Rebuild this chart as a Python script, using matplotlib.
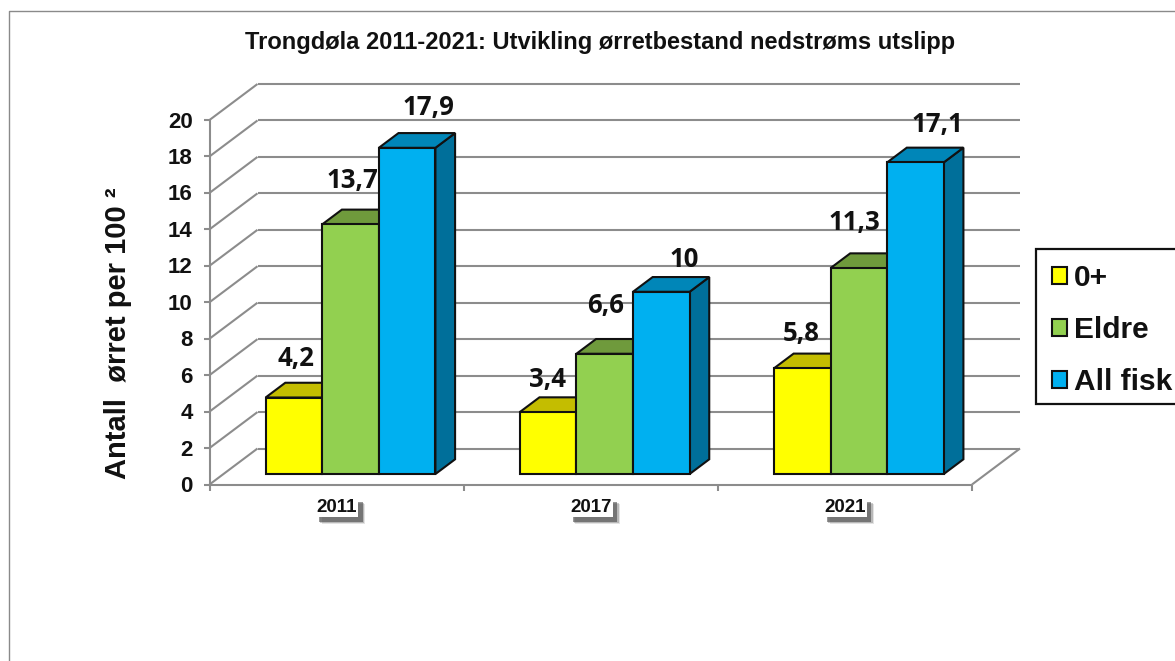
import matplotlib
matplotlib.use("Agg")
import matplotlib.pyplot as plt
import matplotlib.patheffects as pe
from matplotlib.patches import Polygon, Patch, Rectangle
from matplotlib.lines import Line2D

years = ["2011", "2017", "2021"]
series_names = ["0+", "Eldre", "All fisk"]
young = [4.2, 3.4, 5.8]
older = [13.7, 6.6, 11.3]
all_fish = [17.9, 10, 17.1]
value_labels = [["4,2", "3,4", "5,8"], ["13,7", "6,6", "11,3"], ["17,9", "10", "17,1"]]
y_ticks = list(range(0, 21, 2))

front_colors = ["#FFFF00", "#92D050", "#00B0F0"]
top_colors = ["#C4BD00", "#6F9A3C", "#0086B8"]
side_colors = ["#A8A200", "#5F8535", "#006F9A"]
GRID = "#8C8C8C"
W, H = 1175, 661

fig = plt.figure(figsize=(W / 100, H / 100), dpi=100, facecolor="white")
plt.rcParams["font.family"] = ["Liberation Sans", "DejaVu Sans"]

# Axes span the front plane of the 3D box, in pixel placement
left, right, bottom, top = 209.5, 972.0, 484.5, 120.0
ax = fig.add_axes([left / W, 1 - bottom / H, (right - left) / W, (bottom - top) / H])
ax.set_xlim(0, 3)
ax.set_ylim(0, 20)
ax.axis("off")

x_px = (right - left) / 3
v_px = (bottom - top) / 20
# Oblique projection: a full unit of depth moves the point right and up
DEPTH_X = 48.0 / x_px
DEPTH_Y = 36.0 / v_px


def proj(x, v, depth=0.0):
    return x + DEPTH_X * depth, v + DEPTH_Y * depth


def segment(p, q, **kw):
    style = dict(color=GRID, lw=1.5, clip_on=False, solid_capstyle="butt", zorder=1)
    style.update(kw)
    ax.add_line(Line2D([p[0], q[0]], [p[1], q[1]], **style))


# Walls: back gridlines, left-side diagonals, floor outline
for v in y_ticks:
    segment(proj(0, v, 0), proj(0, v, 1))
    segment(proj(0, v, 1), proj(3, v, 1))
segment(proj(0, 0), proj(3, 0))
segment(proj(3, 0), proj(3, 0, 1))
segment(proj(0, 0), proj(0, 20))

# Tick marks and value-axis labels
tick_len_x = 6 / x_px
tick_len_v = 6 / v_px
for v in y_ticks:
    segment((0, v), (-tick_len_x, v))
    ax.text(-17 / x_px, v - 2 / v_px, str(v), ha="right", va="center", fontsize=16,
            fontweight="bold", color="#111111", clip_on=False)
for i in range(4):
    segment((i, 0), (i, -tick_len_v))

# Bars with front, top and side faces
BAR_W = 56.6 / x_px
BAR_D0 = 0.29
BAR_D1 = 0.70
outline = dict(edgecolor="#111111", linewidth=1.5, joinstyle="miter", clip_on=False)
series = [young, older, all_fish]
for g in range(len(years)):
    base = g + 0.5 - 1.5 * BAR_W
    for s, vals in enumerate(series):
        v = vals[g]
        x0, x1 = base + s * BAR_W, base + (s + 1) * BAR_W
        z = 3 + s * 0.1
        ax.add_patch(Polygon([proj(x1, 0, BAR_D0), proj(x1, 0, BAR_D1),
                              proj(x1, v, BAR_D1), proj(x1, v, BAR_D0)],
                             facecolor=side_colors[s], zorder=z, **outline))
        ax.add_patch(Polygon([proj(x0, v, BAR_D0), proj(x1, v, BAR_D0),
                              proj(x1, v, BAR_D1), proj(x0, v, BAR_D1)],
                             facecolor=top_colors[s], zorder=z, **outline))
        ax.add_patch(Polygon([proj(x0, 0, BAR_D0), proj(x1, 0, BAR_D0),
                              proj(x1, v, BAR_D0), proj(x0, v, BAR_D0)],
                             facecolor=front_colors[s], zorder=z + 0.01, **outline))

# Data labels, nudged by hand off each bar's top-front edge (pixels)
label_nudge = [[(2, 39), (-1, 33), (-1, 35)],
               [(1.5, 44), (1, 48), (-4.5, 46)],
               [(21.5, 40), (22.5, 32), (22.5, 38)]]
for s, vals in enumerate(series):
    for g, v in enumerate(vals):
        base = g + 0.5 - 1.5 * BAR_W
        cx, cy = proj(base + (s + 0.5) * BAR_W, v, BAR_D0)
        dx, dy = label_nudge[s][g]
        ax.annotate(value_labels[s][g], (cx, cy), xytext=(dx * 0.72, dy * 0.72),
                    textcoords="offset points", ha="center", va="center",
                    fontsize=18.5, fontweight="bold", family=["Open Sans", "DejaVu Sans"],
                    color="#111111", zorder=6, annotation_clip=False)

# Category labels in a white box with a soft drop shadow
for g, name in enumerate(years):
    t = ax.text(g + 0.5, -1.26, name, ha="center", va="center", fontsize=13.5,
                fontweight="bold", color="#111111", zorder=5, clip_on=False,
                bbox=dict(boxstyle="square,pad=0.08", facecolor="white", edgecolor="none"))
    t.get_bbox_patch().set_path_effects([
        pe.withSimplePatchShadow(offset=(5, -5), shadow_rgbFace="#777777", alpha=0.2),
        pe.withSimplePatchShadow(offset=(4, -4), shadow_rgbFace="#555555", alpha=0.3),
        pe.withSimplePatchShadow(offset=(3, -3), shadow_rgbFace="#333333", alpha=0.5),
        pe.Normal()])

fig.text(600 / W, 1 - 43 / H, "Trongdøla 2011-2021: Utvikling ørretbestand nedstrøms utslipp",
         ha="center", va="center", fontsize=17, fontweight="bold", color="#111111")
fig.text(118 / W, 1 - 333 / H, "Antall  ørret per 100 ²", rotation=90, ha="center", va="center",
         fontsize=21, fontweight="bold", color="#111111")

# Outer frame, left and top edges only
fig.add_artist(Line2D([8.5 / W, 8.5 / W, 1], [0, 1 - 10.5 / H, 1 - 10.5 / H],
                      color="#8A8A8A", lw=1.0))

# Legend box runs off the right edge of the figure
fig.add_artist(Rectangle((1036 / W, 1 - 403.5 / H), 160 / W, 155 / H, transform=fig.transFigure,
                         facecolor="white", edgecolor="#111111", linewidth=1.6, zorder=4))
handles = [Patch(facecolor=c, edgecolor="#111111", linewidth=1.5) for c in front_colors]
leg = fig.legend(handles, series_names, loc="upper left",
                 bbox_to_anchor=(1045 / W, 1 - 257 / H), frameon=False,
                 handlelength=0.5, handleheight=0.5, handletextpad=0.23,
                 labelspacing=0.79, borderpad=0.25, borderaxespad=0,
                 prop=dict(family="Liberation Sans", weight="bold", size=21.5))
leg.set_zorder(5)
for txt in leg.get_texts():
    txt.set_color("#111111")

fig.savefig("out.png", dpi=100, facecolor="white")
